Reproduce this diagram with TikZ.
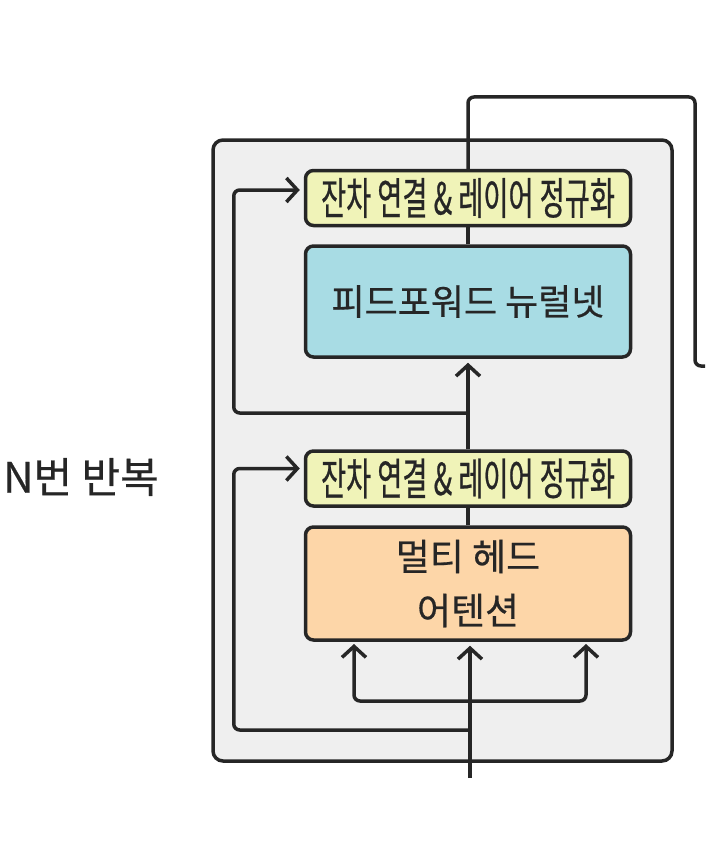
\documentclass[tikz,border=0pt]{standalone}
\usepackage{fontspec}
\setmainfont{Noto Sans CJK KR}[FakeBold=0.5]
\newfontfamily\narrowkr[FakeStretch=0.62, FakeBold=0.5]{Noto Sans CJK KR}
\usetikzlibrary{arrows.meta, positioning, calc}
\definecolor{figline}{RGB}{38,38,38}
\definecolor{figgray}{RGB}{239,239,239}
\definecolor{figyellow}{RGB}{240,243,184}
\definecolor{figblue}{RGB}{168,220,228}
\definecolor{figorange}{RGB}{253,214,168}
\tikzset{
  blk/.style={draw=figline, fill=#1, rounded corners=8pt, line width=3.5pt,
              minimum width=325pt, align=center, inner sep=0pt, text=figline},
  normbx/.style={blk=figyellow, minimum height=55pt,
                 font=\narrowkr\fontsize{44}{44}\selectfont},
  ffnbx/.style={blk=figblue, minimum height=111pt,
                font=\fontsize{36}{40}\selectfont},
  attbx/.style={blk=figorange, minimum height=113pt,
                font=\fontsize{37}{54}\selectfont},
  wire/.style={draw=figline, line width=3.5pt, rounded corners=6pt},
  arr/.style={wire, -{Straight Barb[length=11pt, width=24pt]}, shorten >=4pt},
}

\begin{document}
\begin{tikzpicture}[x=1pt, y=-1pt]
  \useasboundingbox (0,0) rectangle (722,848);

  \node[draw=figline, fill=figgray, rounded corners=10pt, line width=3.5pt,
        minimum width=459pt, minimum height=621pt] (stack) at (442.5,450.5) {};

  \node[normbx] (norm2) at (468,198)   {잔차 연결 \& 레이어 정규화};
  \node[ffnbx]  (ffn)   at (468,301.5) {피드포워드 뉴럴넷};
  \node[normbx] (norm1) at (468,478.5) {잔차 연결 \& 레이어 정규화};
  \node[attbx]  (mha)   at (468,583.5) {멀티 헤드\\어텐션};

  \node[font=\fontsize{42}{42}\selectfont, text=figline] (rep) at (81,477) {N번 반복};

  \coordinate (in)   at (470,778);
  \coordinate (sp)   at (470,701);
  \coordinate (mhaL) at (354,640);
  \coordinate (mhaR) at (586,640);
  \coordinate (r1)   at (470,730);
  \coordinate (r2)   at (468,413);
  \coordinate (out)  at (705,366);

  % attention inputs
  \draw[arr] (in) -- (mha.south -| in);
  \draw[arr] (sp) -| (mhaL);
  \draw[arr] (sp) -| (mhaR);
  \draw[arr] (r1) -| ([xshift=-70pt, yshift=10pt]norm1.west) -- ([yshift=10pt]norm1.west);
  \draw[wire] (mha) -- (norm1);

  % feed forward
  \draw[arr] (norm1) -- (ffn);
  \draw[arr] (r2) -| ([xshift=-70pt, yshift=8pt]norm2.west) -- ([yshift=8pt]norm2.west);
  \draw[wire] (ffn) -- (norm2);
  \draw[wire] (norm2.north) |- (695,97) |- (out);
\end{tikzpicture}
\end{document}
